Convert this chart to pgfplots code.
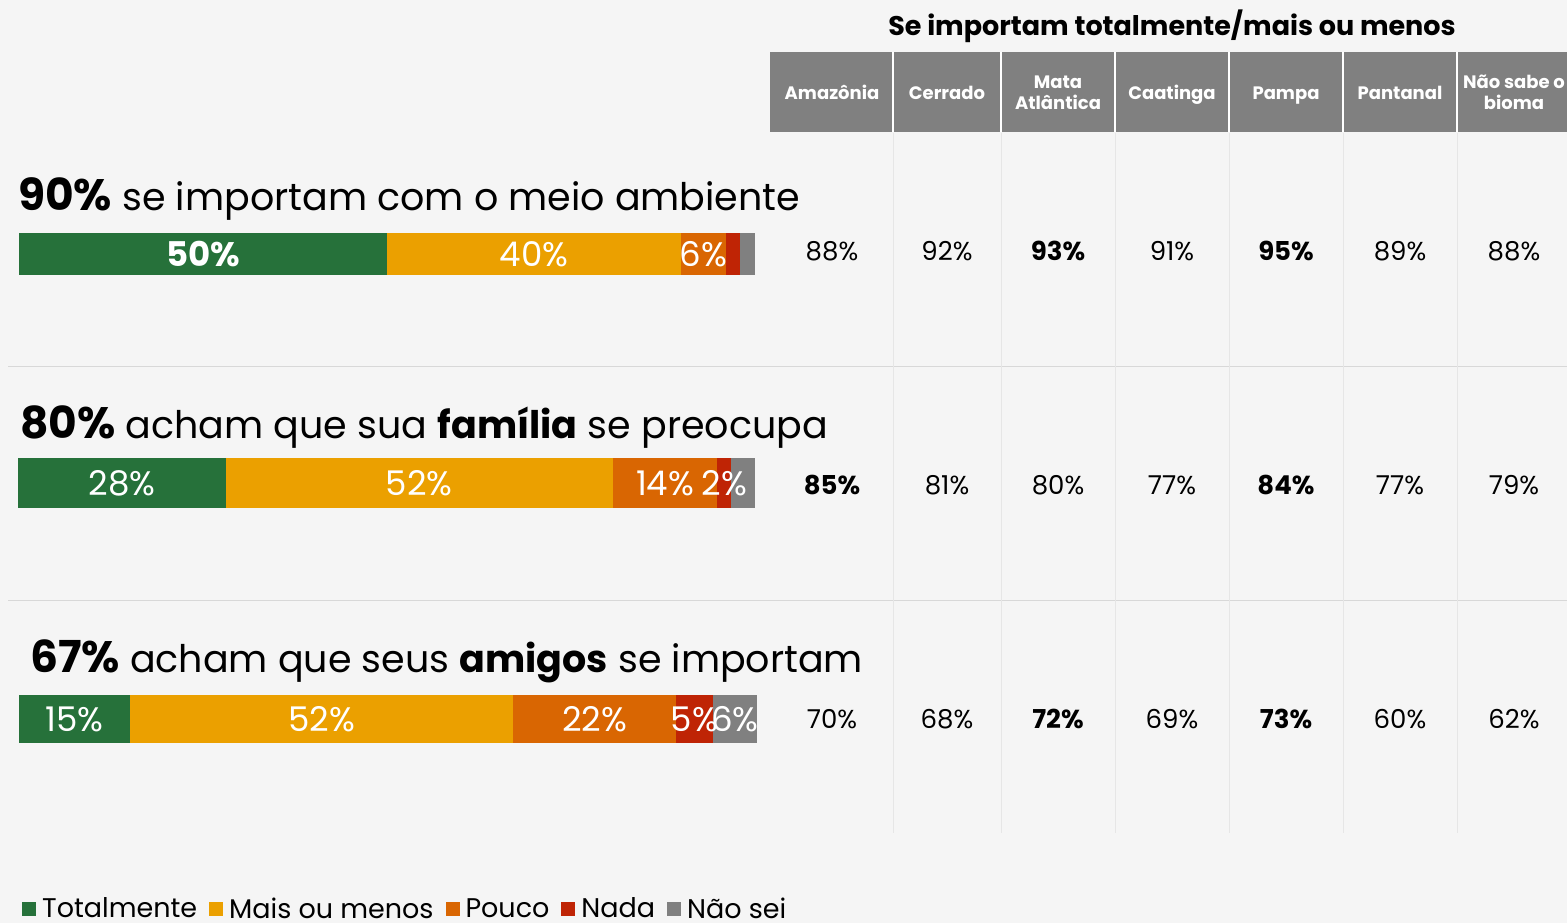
\documentclass[border=0pt]{standalone}
\usepackage{pgfplots}
\pgfplotsset{compat=1.18}
\usepackage{fontspec}
\setmainfont{Poppins}
\definecolor{bg}{HTML}{F5F5F5}
\definecolor{cT}{HTML}{26713A}
\definecolor{cM}{HTML}{EBA000}
\definecolor{cP}{HTML}{D96602}
\definecolor{cN}{HTML}{BF2405}
\definecolor{cS}{HTML}{808080}
\definecolor{hdr}{HTML}{808080}
\definecolor{gridc}{HTML}{E6E6E6}
\definecolor{sepc}{HTML}{D8D8D8}
\newcommand\fs[1]{\fontsize{#1}{#1}\selectfont}
\newcommand\bignum[1]{{\fontsize{44}{44}\selectfont\bfseries #1}}
\pgfplotsset{
  stackrow/.style 2 args={
    xbar stacked, scale only axis, width=#1pt, height=#2pt,
    xmin=0, xmax=100, ymin=-1, ymax=1, hide axis, clip=false,
    bar width=#2pt, enlargelimits=false,
  }
}
% segment: colour, value, label (pgfplots centres the label on the segment)
\newcommand\seg[3]{\addplot[fill=#1, draw=none,
  nodes near coords={#3},
  every node near coord/.append style={anchor=center, text=white, font=\fs{34}}]
  coordinates {(#2,0)};}
\begin{document}
\begin{tikzpicture}
\begin{scope}[x=1pt,y=-1pt]
\fill[bg] (0,0) rectangle (1567,923);
\draw[sepc, line width=1pt] (8,366) -- (1567,366);
\draw[sepc, line width=1pt] (8,600) -- (1567,600);
\fill[hdr] (770,52) rectangle (1567,132);
\foreach \x in {893,1001,1115,1229,1343,1457} {
  \draw[white, line width=2pt] (\x,52) -- (\x,132);
  \draw[gridc, line width=1pt] (\x,133) -- (\x,833);
}
\node[anchor=base, font=\fs{27}\bfseries] at (1172,36) {Se importam totalmente/mais ou menos};
\begin{scope}[every node/.style={text=white, anchor=base, font=\fs{18}\bfseries}]
\node at (832,100) {Amazônia};
\node at (947,100) {Cerrado};
\node at (1058,89) {Mata};
\node at (1058,110) {Atlântica};
\node at (1172,100) {Caatinga};
\node at (1286,100) {Pampa};
\node at (1400,100) {Pantanal};
\node at (1514,89) {Não sabe o};
\node at (1514,110) {bioma};
\end{scope}
\begin{scope}[every node/.style={anchor=base, font=\fs{26}}]
\node at (832,260) {88\%};
\node at (947,260) {92\%};
\node at (1058,260) {\textbf{93\%}};
\node at (1172,260) {91\%};
\node at (1286,260) {\textbf{95\%}};
\node at (1400,260) {89\%};
\node at (1514,260) {88\%};
\node at (832,494) {\textbf{85\%}};
\node at (947,494) {81\%};
\node at (1058,494) {80\%};
\node at (1172,494) {77\%};
\node at (1286,494) {\textbf{84\%}};
\node at (1400,494) {77\%};
\node at (1514,494) {79\%};
\node at (832,728) {70\%};
\node at (947,728) {68\%};
\node at (1058,728) {\textbf{72\%}};
\node at (1172,728) {69\%};
\node at (1286,728) {\textbf{73\%}};
\node at (1400,728) {60\%};
\node at (1514,728) {62\%};
\end{scope}
\begin{scope}[every node/.style={anchor=base west, font=\fs{38}, inner sep=0pt}]
\node at (18,211) {\bignum{90\%} se importam com o meio ambiente};
\node at (20,438) {\bignum{80\%} acham que sua \textbf{família} se preocupa};
\node at (30,672) {\bignum{67\%} acham que seus \textbf{amigos} se importam};
\end{scope}
\end{scope}

\begin{axis}[stackrow={736}{42}, at={(19pt,-254pt)}, anchor=west]
\seg{cT}{50}{\textbf{50\%}}
\seg{cM}{40}{40\%}
\seg{cP}{6}{6\%}
\seg{cN}{2}{}
\seg{cS}{2}{}
\end{axis}

\begin{axis}[stackrow={737}{50}, at={(18pt,-483pt)}, anchor=west]
\seg{cT}{28.2}{28\%}
\seg{cM}{52.5}{52\%}
\seg{cP}{14.2}{14\%}
\seg{cN}{1.9}{2\%}
\seg{cS}{3.2}{}
\end{axis}

\begin{axis}[stackrow={738}{48}, at={(19pt,-719pt)}, anchor=west,
  legend columns=-1,
  legend image code/.code={\fill[#1] (0pt,-7pt) rectangle (14pt,7pt);},
  legend style={draw=none, fill=none, at={(0.004,-3.45)}, anchor=west, inner sep=0pt,
    font=\fs{27},
    nodes={inner xsep=0pt, inner ysep=0pt},
    /tikz/every odd column/.append style={column sep=6pt},
    /tikz/every even column/.append style={column sep=12pt}},
]
\seg{cT}{15}{15\%}
\seg{cM}{52}{52\%}
\seg{cP}{22}{22\%}
\seg{cN}{5}{5\%}
\seg{cS}{6}{6\%}
\legend{Totalmente, Mais ou menos, Pouco, Nada, Não sei}
\end{axis}
\pgfresetboundingbox
\path[use as bounding box] (0,0) rectangle (1567pt,-923pt);
\end{tikzpicture}
\end{document}
